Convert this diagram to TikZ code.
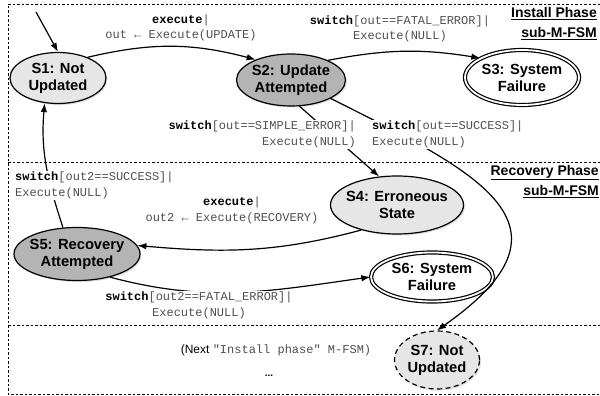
\documentclass[tikz,border=0pt]{standalone}
\usepackage{fontspec}
\setmainfont{Liberation Sans}
\setmonofont{Liberation Mono}
\usetikzlibrary{shapes.geometric,arrows.meta,shadows}

\definecolor{lightfill}{RGB}{230,230,230}
\definecolor{darkfill}{RGB}{180,180,180}
\definecolor{codegray}{RGB}{80,80,80}

\newcommand\keyw[1]{\textcolor{black}{\textbf{#1}}}

\tikzset{
   statetext/.style={align=center, inner sep=0pt, font=\bfseries\fontsize{14.7}{17}\selectfont},
   fsmstate/.style={ellipse, draw, line width=1.2pt, inner sep=0pt,
      label={[statetext]center:{#1}},
      drop shadow={shadow xshift=1.5pt, shadow yshift=-1.5pt, opacity=0.25}},
   fsmfinal/.style={fsmstate={#1}, double, double distance=1.8pt, fill=white},
   trans/.style={font=\ttfamily\fontsize{12}{15.5}\selectfont, text=codegray,
      fill=white, inner sep=1pt},
   phase/.style={font=\bfseries\fontsize{14}{20}\selectfont, align=right, inner sep=0pt},
   frame/.style={dash pattern=on 2.5pt off 2pt, line width=0.6pt}
}

\begin{document}
\begin{tikzpicture}[x=1pt, y=1pt, >={Latex[length=9pt,width=6.5pt]}]

      \useasboundingbox (0,0) rectangle (600,396);

      \draw [frame] (600,392) -- (8,392) -- (8,2) -- (600,2);
      \draw [frame] (8,234) -- (600,234);
      \draw [frame] (8,71) -- (600,71);

      \node [anchor=north east, phase] at (597,389) {\underline{Install Phase}\\\underline{sub-M-FSM}};
      \node [anchor=north east, phase] at (599,231) {\underline{Recovery Phase}\\\underline{sub-M-FSM}};

      \node (S1) at (58,318) [fsmstate={S1: Not\\Updated}, fill=lightfill, minimum width=96, minimum height=51] {};
      \node (S2) at (291,316) [fsmstate={S2: Update\\Attempted}, fill=darkfill, minimum width=109, minimum height=52] {};
      \node (S3) at (522,318.5) [fsmfinal={S3: System\\Failure}, minimum width=114, minimum height=55] {};
      \node (S4) at (397,191) [fsmstate={S4: Erroneous\\State}, fill=lightfill, minimum width=133, minimum height=58] {};
      \node (S5) at (77,142) [fsmstate={S5: Recovery\\Attempted}, fill=darkfill, minimum width=126, minimum height=53] {};
      \node (S6) at (432,119) [fsmfinal={S6: System\\Failure}, minimum width=122, minimum height=49] {};
      \node (S7) at (437,36) [fsmstate={S7: Not\\Updated}, fill=lightfill, dash pattern=on 5pt off 3.5pt, minimum width=85, minimum height=58] {};

      \coordinate (init) at (36,384);

      \draw [line width=1.2pt, ->] (init) -- (S1.north);
      \draw [line width=1.2pt, ->] (S1.35) to [bend left=14] (S2.150);
      \draw [line width=1.2pt, ->] (S2.28) to [bend left=10] (S3.155);
      \draw [line width=1.2pt, ->] (S2.-72) -- (S4.122);
      \draw [line width=1.2pt, ->] (S2.-25) .. controls +(150,-75) and +(150,105) .. (S7.north);
      \draw [line width=1.2pt, ->] (S4.215) to [out=195, in=-5] (S5.8);
      \draw [line width=1.2pt, ->] (S5.-35) to [out=-15, in=188] (S6.west);
      \draw [line width=1.2pt, ->] (S5.118) to [out=108, in=-95] (S1.-118);

      \node (l12) at (181,368) [trans, align=center] {\keyw{execute}|\\out ← Execute(UPDATE)};
      \node (l23) at (400,367) [trans, align=center] {\keyw{switch}[out==FATAL\_ERROR]|\\Execute(NULL)};
      \node (l24) at (357,261.5) [trans, anchor=east, align=right] {\keyw{switch}[out==SIMPLE\_ERROR]|\\Execute(NULL)};
      \node (l27) at (371,261.5) [trans, anchor=west, align=left] {\keyw{switch}[out==SUCCESS]|\\Execute(NULL)};
      \node (l51) at (14,210.5) [trans, anchor=west, align=left] {\keyw{switch}[out2==SUCCESS]|\\Execute(NULL)};
      \node (l45) at (232,185.5) [trans, align=center] {\keyw{execute}|\\out2 ← Execute(RECOVERY)};
      \node (l56) at (199,90.5) [trans, align=center] {\keyw{switch}[out2==FATAL\_ERROR]|\\Execute(NULL)};

      \node (next) at (276,46) [trans] {\rmfamily\color{black}(Next \ttfamily\color{codegray}"Install phase" M-FSM)};
      \node (dots) at (269,20) [font=\bfseries] {...};

   \end{tikzpicture}
\end{document}
